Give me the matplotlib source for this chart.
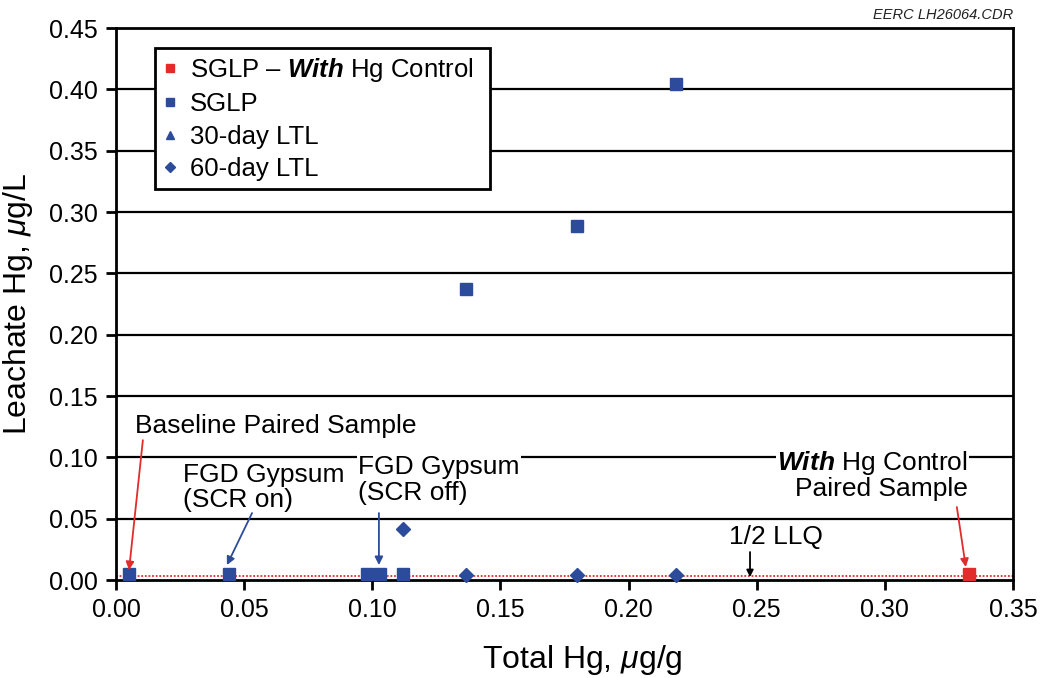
import matplotlib
matplotlib.use("Agg")
import matplotlib.pyplot as plt
from matplotlib.lines import Line2D

plt.rcParams['font.family'] = ['Liberation Sans', 'DejaVu Sans']
plt.rcParams['mathtext.fontset'] = 'custom'
plt.rcParams['mathtext.rm'] = 'Liberation Sans'
plt.rcParams['mathtext.it'] = 'Liberation Sans:italic'
plt.rcParams['mathtext.bf'] = 'Liberation Sans:bold'
try:
    plt.rcParams['mathtext.bfit'] = 'Liberation Sans:italic:bold'
except KeyError:
    pass

# ---- data ----
sglp_ctrl_x = [0.333]
sglp_ctrl_y = [0.005]
sglp_x = [0.005, 0.044, 0.098, 0.103, 0.112, 0.1366, 0.180, 0.2185]
sglp_y = [0.005, 0.005, 0.005, 0.005, 0.005, 0.237, 0.289, 0.404]
ltl30_x = []
ltl30_y = []
ltl60_x = [0.112, 0.1366, 0.180, 0.2185]
ltl60_y = [0.042, 0.004, 0.004, 0.004]
half_llq = 0.0033
xticks = [0.00, 0.05, 0.10, 0.15, 0.20, 0.25, 0.30, 0.35]
yticks = [0.00, 0.05, 0.10, 0.15, 0.20, 0.25, 0.30, 0.35, 0.40, 0.45]

BLUE = '#2d4b9b'
RED = '#e22b2b'

fig = plt.figure(figsize=(10.4, 6.78), dpi=100)
ax = fig.add_axes([0.1115, 0.1445, 0.8625, 0.8142])
ax.set_xlim(0, 0.35)
ax.set_ylim(0, 0.45)
ax.set_xticks(xticks)
ax.set_yticks(yticks)
ax.set_xticklabels([f"{v:.2f}" for v in xticks])
ax.set_yticklabels([f"{v:.2f}" for v in yticks])
ax.tick_params(axis='both', labelsize=18, direction='out', length=7, width=2, colors='black', pad=6)
for s in ax.spines.values():
    s.set_linewidth(2)

for yv in yticks[1:-1]:
    ax.axhline(yv, color='black', lw=1.6, zorder=1)

ax.axhline(half_llq, color=RED, lw=1.3, ls=(0, (1, 1)), zorder=2)

ms = 9
ax.plot(sglp_ctrl_x, sglp_ctrl_y, 's', color=RED, ms=ms, zorder=4, clip_on=False)
ax.plot(sglp_x, sglp_y, 's', color=BLUE, ms=ms, zorder=4, clip_on=False)
ax.plot(ltl30_x, ltl30_y, '^', color=BLUE, ms=ms, zorder=4)
ax.plot(ltl60_x, ltl60_y, 'D', color=BLUE, ms=7, zorder=5, clip_on=False)

ax.set_xlabel(r'Total Hg, $\mu$g/g', fontsize=23)
ax.xaxis.set_label_coords(0.5 + 18 / 897, -0.145)
ax.xaxis.label.set_va('center')
ax.set_ylabel(r'Leachate Hg, $\mu$g/L', fontsize=23, labelpad=10)

handles = [
    Line2D([], [], ls='none', marker='s', color=RED, ms=6),
    Line2D([], [], ls='none', marker='s', color=BLUE, ms=6),
    Line2D([], [], ls='none', marker='^', color=BLUE, ms=6),
    Line2D([], [], ls='none', marker='D', color=BLUE, ms=5),
]
labels = [r'SGLP – $\mathbfit{With}$ Hg Control  ', 'SGLP', '30-day LTL', '60-day LTL']
leg = ax.legend(handles, labels, loc='upper left', bbox_to_anchor=(0.0435, 0.9638),
                fontsize=18.5, frameon=True, fancybox=False, framealpha=1,
                edgecolor='black', handlelength=0.6, handletextpad=0.45,
                labelspacing=0.33, borderpad=0.3, borderaxespad=0)
leg.get_frame().set_linewidth(2)
leg.set_zorder(6)

bbox = dict(facecolor='white', edgecolor='none', pad=1)
fs = 19


def arrow(x0, y0, x1, y1, color, ms=12):
    ax.annotate('', xy=(x1, y1), xytext=(x0, y0), zorder=7,
                arrowprops=dict(arrowstyle='-|>', color=color, lw=1.3,
                                mutation_scale=ms, shrinkA=0, shrinkB=0))


ax.text(0.0074, 0.1255, 'Baseline Paired Sample', fontsize=fs, ha='left', va='center',
        bbox=bbox, zorder=7)
arrow(0.0105, 0.114, 0.0051, 0.0081, RED)

ax.text(0.0261, 0.0755, 'FGD Gypsum\n(SCR on)', fontsize=fs, ha='left', va='center',
        linespacing=1.08, zorder=7)
arrow(0.0531, 0.0546, 0.0433, 0.0122, BLUE)

ax.text(0.0944, 0.0815, 'FGD Gypsum\n(SCR off)', fontsize=fs, ha='left', va='center',
        linespacing=1.12, bbox=bbox, zorder=7)
arrow(0.1026, 0.0546, 0.1026, 0.0122, BLUE)

ax.text(0.3324, 0.0856, '$\\mathbfit{With}$ Hg Control\nPaired Sample', fontsize=fs,
        ha='right', va='center', linespacing=1.05, multialignment='right',
        bbox=bbox, zorder=7)
arrow(0.3281, 0.0595, 0.3316, 0.0106, RED)

ax.text(0.2575, 0.035, '1/2 LLQ', fontsize=fs, ha='center', va='center', bbox=bbox, zorder=7)
arrow(0.2474, 0.0228, 0.2474, 0.0024, 'black', ms=10)

fig.text(0.974, 0.978, 'EERC LH26064.CDR', ha='right', va='center', fontsize=10.5,
         style='italic', color='#222222')

fig.savefig('out.png', dpi=100)
